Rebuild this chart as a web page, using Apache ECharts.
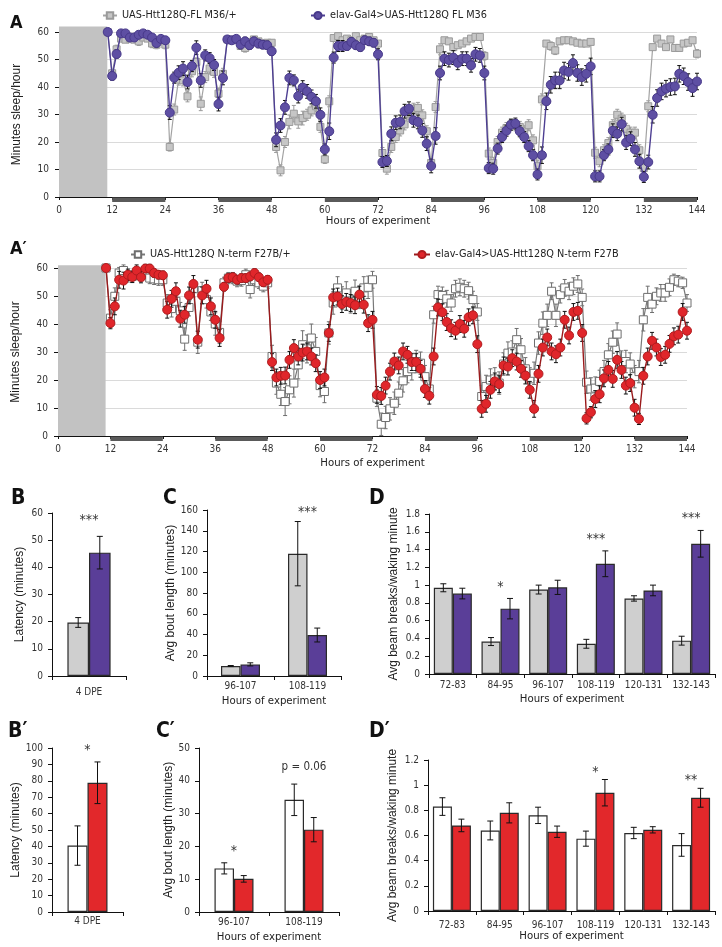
<!DOCTYPE html>
<html><head><meta charset="utf-8">
<script src="https://cdn.jsdelivr.net/npm/echarts@6/dist/echarts.min.js"></script>
<style>html,body{margin:0;padding:0;background:#fff}#c{width:722px;height:947px}</style>
</head><body><div id="c"></div>
<script>
const NARROW = "'Liberation Sans Narrow','Arial Narrow','DejaVu Sans Condensed','Liberation Sans',sans-serif";
const REG = "'Liberation Sans',Arial,sans-serif";

// ---------- time-series data (hourly, hour 11 .. 144) ----------
const firstHour = 11;
const nightPeriods = [[12,24],[36,48],[60,72],[84,96],[108,120],[132,144]];
const shadedStart = 0, shadedEnd = 10.9;

const nameA1 = 'UAS-Htt128Q-FL M36/+';
const nameA2 = 'elav-Gal4>UAS-Htt128Q FL M36';
const nameB1 = 'UAS-Htt128Q N-term F27B/+';
const nameB2 = 'elav-Gal4>UAS-Htt128Q N-term F27B';

const aCtrl = [60,45,53.7,57.6,57.2,57.6,57.2,56.6,58,57.6,55.8,55.4,56.6,55.4,
 18.2,31.8,42.7,42.4,36.6,45.7,49.1,33.9,43.6,46.7,45.5,37.6,44.8,
 57.3,57,57.3,54.9,54.2,56.4,57.3,56.6,55.8,56.1,56.1,
 18.2,9.7,20,27.3,30.3,27.5,28.7,29.9,31.5,33,25.5,13.7,34.8,
 57.8,58.5,57,57.6,57,58.5,57,57.6,58.2,57,55.8,
 16,10.3,18.2,21.8,24.2,26.4,30.3,32.1,32.4,29.7,23.9,12.4,32.7,
 53.7,57,56.6,54.5,55.2,55.8,56.6,57.6,58.2,58.2,51.3,
 15.8,12.4,20,23.4,25.1,26.3,26.1,25.5,23.9,26.1,20.6,11.2,
 35.5,55.8,54.9,53.3,56.6,57,57,56.6,56.1,55.8,55.8,56.4,
 16.1,13,17,19.6,26.1,29.9,28.5,24.8,23.4,23.4,17,10.5,
 33,54.5,57.6,55.8,54.5,57.3,54.2,54.2,55.8,56.1,57,52.1];
const aCtrlErr = [0.5,1,1.5,1,1,1,1,1.5,1,1,1.5,1.5,1,1.5,
 1.5,2,2,2,2,2,1.5,2.5,2,2,2,2,2,
 1,1,1,1,1.5,1,1,1,1,1,1,
 2,2,2,2.5,3,2.5,2.5,2,2,2,2,1.5,2,
 1,1,1,1,1,1,1,1,1,1,1,
 2,2,2,2,2,2,2,2,2,2,2,2,2,
 2,1,1,1,1,1,1,1,1,1,1.5,
 2,2,2,2,2,2,2,2,2,2,2,2,
 2,1,1.5,1.5,1,1,1,1,1,1,1,1,
 2,2,2,2,2,2,2,2,2,2,2,2,
 2,1,1,1,1,1,1,1,1,1,1,1.5];
const aHtt = [60,44,52,59.5,59.5,58,58,59,59.5,59,58,56,57.5,57,
 30.7,43.4,45.2,46.7,41.8,47.6,54.3,42.4,51.5,50.5,48,33.8,43.3,
 57.3,57,57.5,55.4,56.6,55.2,56.6,55.8,55.4,55.2,53,
 20.8,26,32.6,43.3,42.4,36.7,39.8,38.4,36.4,34.8,29.9,17.3,23.9,
 50.7,54.9,54.9,54.9,56.4,55.2,54.5,57,56.6,56.1,51.9,
 12.7,13.1,23,27,27.3,31.2,32.1,27.9,27.3,24.2,19.4,11.3,22.2,
 45.1,50.3,49.8,50.7,48.8,50.3,50.3,47.9,51.9,51.5,45.1,
 10.5,10.3,17.6,21.8,24.1,26.3,26.7,23.9,21.8,18.5,15.2,8.2,
 15.2,34.8,40.8,42.4,42.4,46,45.5,48.7,45.1,43.6,44.8,47.5,
 7.5,7.5,15.2,17.3,24.1,23,26.5,19.8,21.2,17.3,13,7.3,
 12.7,29.9,36,38.4,39.4,40,40.2,44.8,43.9,41.8,39.6,42];
const aHttErr = [0.5,1.5,1.5,1,1,1,1,1,1,1,1,1.5,1,1,
 2.5,2,2.5,2.5,2.5,2,2.5,2.5,2,2,2,2.5,2.5,
 1,1,1,1.5,1.5,1.5,1.5,1.5,1.5,1.5,1.5,
 2.5,2.5,2.5,2.5,2,2.5,2.5,2.5,2.5,2.5,2.5,2,3,
 2,2,2,1.5,1.5,1.5,1.5,1.5,1.5,1.5,2,
 2,2,2.5,2.5,2.5,2.5,2.5,2.5,2.5,2.5,2.5,2.5,3,
 2.5,2.5,2.5,2.5,2.5,2.5,2.5,2.5,2.5,2.5,2.5,
 2,2,2,2,2,2,2,2,2,2,2,2,
 3,3,3,3,3,3,3,3,3,3,3,3,
 2,2,2,2,2.5,2.5,2.5,2.5,2.5,2.5,2.5,2,
 2.5,3,3,3,3,3,3,3,3,3,3,3];

const bCtrl = [60,42.1,49.9,58.2,59.1,57,57,57.9,57.6,59.1,56.4,56.1,55.8,55.8,
 47.5,45.5,48.1,44.7,34.6,45.9,52.6,33.5,51.9,48.7,44.3,40,37,
 54.7,56.4,56.4,55.3,55.5,57.6,52.3,55.8,54.7,53.5,54.7,
 28.4,18.9,14.9,12.3,16.5,18.9,25.4,32.6,31.1,35,30.2,18,15.9,
 36.8,47.5,52.9,49.3,51.1,47.9,51.7,49.5,52.9,53.1,55.8,
 13.5,4.2,6.6,9.7,11.7,15.3,19.7,23,24,26.6,26,21.2,16.8,
 43.3,50.5,50.2,49,47.5,52.6,53.1,52.6,51.9,48.7,44.3,
 14.1,17.7,20,20.4,18.9,25.7,29.6,30,34.4,30.8,24,20.4,
 22.4,33.2,40.3,43.1,51.7,43.1,50.5,52.9,51.7,53.5,54.3,49.5,
 19.2,16.8,17.1,19.5,23,29,33.5,36.4,26.4,26.6,25.7,21.2,
 23,41.5,49.5,47.1,49.9,51.1,51.1,53.1,55.8,55.3,54.7,47.5];
const bCtrlErr = [0.5,3,3,2,2,2,2,2,2,2,2,2,2,2,
 3,3,3,3,4,3,3,4,3,3,3,4,4,
 2,2,2,2,2,2,3,2,2,2,2,
 4,4,4,5,5,5,5,5,5,5,5,4,4,
 4,4,4,4,4,4,4,4,4,4,3,
 3,4,4,4,4,4,4,4,4,4,4,4,4,
 3,3,3,3,3,3,3,3,3,3,3,
 4,4,4,4,4,4,4,4,4,4,4,4,
 4,4,4,4,3,4,3,3,3,3,3,3,
 4,4,4,4,4,4,4,4,4,4,4,4,
 4,4,4,3,3,3,3,3,2,2,2,3];
const bHtt = [60,40.3,46.3,55.8,55.5,57.6,56.8,59.1,56.7,59.8,59.8,58.2,57.6,57.4,
 45.1,49,51.7,41.9,43.3,50.2,54.3,34.4,50.2,52.6,46.3,41.5,35,
 53.3,56.4,56.7,55.8,56.4,56.4,57,58.2,56.7,54.9,55.8,
 26.4,20.9,21.5,21.6,27.2,31.4,28.4,29.8,30.2,28.4,26,20,20.9,
 36.8,49.5,49.8,47.1,47.9,47.5,46.7,50.5,46.9,40.3,41.5,
 14.7,14.3,18,23,26.6,25.2,30.2,29,26.4,26.4,24,16.8,14.4,
 28.4,45.9,44.2,40.7,38.5,37.6,40,38.3,42.4,43.1,32.8,
 9.7,11.5,16.5,19.5,18.5,25.2,24.8,27.8,26.6,24,21.6,16.5,
 9.7,22.2,31.6,35.2,30.2,29.2,31.6,41.5,35.9,44.3,44.7,36.8,
 6.3,8.5,13.2,14.9,20.6,23.6,20.4,27.2,23.6,18,18.9,10.1,
 6.1,21.5,28.4,34,31.6,28.2,29,32.9,35.6,36.2,44.3,37.6];
const bHttErr = [0.5,2,3,3,3,2,2,2,2,1.5,1.5,1.5,1.5,1.5,
 3,3,3,3,3,3,3,3,3,3,3,3,3,
 1.5,1.5,1.5,1.5,1.5,1.5,1.5,1.5,1.5,1.5,1.5,
 3,3,3,3,3,3,3,3,3,3,3,3,3,
 3,3,3,3,3,3,3,3,3,3,3,
 3,3,3,3,3,3,3,3,3,3,3,3,3,
 3,3,3,3,3,3,3,3,3,3,3,
 3,3,3,3,3,3,3,3,3,3,3,3,
 3,3,3,3,3,3,3,3,3,3,3,3,
 2,2,3,3,3,3,3,3,3,3,3,3,
 2,3,3,3,3,3,3,3,3,3,3,3];

// ---------- bar panel data ----------
const latCats = ['4 DPE'];
const boutCats = ['96-107','108-119'];
const beamCats = ['72-83','84-95','96-107','108-119','120-131','132-143'];

const latA_ctrl = [19.7], latA_ctrlErr = [1.8];
const latA_htt = [45.4], latA_httErr = [6];
const boutA_ctrl = [9.6,117.9], boutA_ctrlErr = [0.5,31];
const boutA_htt = [11.2,39.5], boutA_httErr = [1.5,6.7];
const beamA_ctrl = [0.97,0.365,0.95,0.34,0.85,0.375], beamA_ctrlErr = [0.045,0.045,0.05,0.05,0.03,0.05];
const beamA_htt = [0.905,0.735,0.975,1.24,0.94,1.465], beamA_httErr = [0.06,0.115,0.08,0.145,0.06,0.15];

const latB_ctrl = [40.5], latB_ctrlErr = [12];
const latB_htt = [78.8], latB_httErr = [12.7];
const boutB_ctrl = [13.3,34.2], boutB_ctrlErr = [1.7,4.8];
const boutB_htt = [10.1,25.1], boutB_httErr = [1,3.7];
const beamB_ctrl = [0.83,0.64,0.76,0.575,0.62,0.525], beamB_ctrlErr = [0.07,0.075,0.065,0.06,0.045,0.09];
const beamB_htt = [0.68,0.78,0.63,0.94,0.645,0.90], beamB_httErr = [0.05,0.08,0.045,0.105,0.025,0.075];

// significance annotations: [category index, value, text]
const sigLatA = [[0,57.3,'***']];
const sigBoutA = [[1,158,'***']];
const sigBeamA = [[1,0.97,'*'],[3,1.52,'***'],[5,1.755,'***']];
const sigLatB = [[0,98.5,'*']];
const sigBoutB = [[0,18.4,'*']];
const noteBoutB = [[1,44.3,'p = 0.06']];
const sigBeamB = [[3,1.1,'*'],[5,1.04,'**']];

// ---------- helpers ----------
const tsPts = arr => arr.map((v,i)=>[firstHour+i, v]);
const tsErrPts = (arr,err) => arr.map((v,i)=>[firstHour+i, v-err[i], v+err[i]]);
const barErrPts = (arr,err) => arr.map((v,i)=>[i, v-err[i], v+err[i]]);

function errRender(color, cap, offset){
  return function(params, api){
    const x = api.value(0), lo = api.value(1), hi = api.value(2);
    const a = api.coord([x, lo]), b = api.coord([x, hi]);
    const px = a[0] + (offset||0);
    const st = {stroke: color, lineWidth: 1};
    return {type:'group', children:[
      {type:'line', shape:{x1:px,y1:a[1],x2:px,y2:b[1]}, style:st},
      {type:'line', shape:{x1:px-cap,y1:b[1],x2:px+cap,y2:b[1]}, style:st},
      {type:'line', shape:{x1:px-cap,y1:a[1],x2:px+cap,y2:a[1]}, style:st}
    ]};
  };
}
function boxRender(color){
  return function(params, api){
    const a = api.coord([api.value(0), 0]), b = api.coord([api.value(1), api.value(2)]);
    return {type:'rect', shape:{x:a[0], y:b[1], width:b[0]-a[0], height:a[1]-b[1]}, style:{fill:color}};
  };
}
function nightRender(params, api){
  const a = api.coord([api.value(0), 0]), b = api.coord([api.value(1), 0]);
  return {type:'rect', shape:{x:a[0], y:a[1]+0.5, width:b[0]-a[0], height:4.5}, style:{fill:'#5a5a5a'}};
}
function textRender(list, font){
  return function(params, api){
    const p = api.coord([api.value(0), api.value(1)]);
    return {type:'text', x:p[0], y:p[1], style:{text:list[params.dataIndex][2], fill:'#333', font:font, align:'center', verticalAlign:'middle'}};
  };
}

const axisLineBlack = {show:true, lineStyle:{color:'#111', width:1}};
const tickLabel = {fontFamily:NARROW, fontSize:10, color:'#333'};
const axisNameH = {fontFamily:NARROW, fontSize:11.3, color:'#222'};

function tsX(gi, gap){
  return {gridIndex:gi, type:'value', min:0, max:144, interval:12,
    axisLine:axisLineBlack, axisTick:{show:true, length:3, lineStyle:{color:'#111'}},
    axisLabel:Object.assign({margin:8}, tickLabel), splitLine:{show:false},
    name:'Hours of experiment', nameLocation:'middle', nameGap:gap, nameTextStyle:axisNameH};
}
function tsY(gi){
  return {gridIndex:gi, type:'value', min:0, max:60, interval:10,
    axisLine:axisLineBlack, axisTick:{show:true, length:4, lineStyle:{color:'#111'}},
    axisLabel:Object.assign({margin:10}, tickLabel),
    splitLine:{show:true, lineStyle:{color:'#dadada', width:1}},
    name:'Minutes sleep/hour', nameLocation:'middle', nameGap:36,
    nameTextStyle:{fontFamily:REG, fontSize:12, color:'#222'}};
}
function catX(gi, cats, withName, margin){
  return {gridIndex:gi, type:'category', data:cats,
    axisLine:axisLineBlack, axisTick:{show:true, length:4, alignWithLabel:false, lineStyle:{color:'#111'}},
    axisLabel:Object.assign({margin:margin, interval:0}, tickLabel), splitLine:{show:false},
    name: withName ? 'Hours of experiment' : '', nameLocation:'middle', nameGap:20, nameTextStyle:axisNameH};
}
function valY(gi, max, interval, name, gap){
  return {gridIndex:gi, type:'value', min:0, max:max, interval:interval,
    axisLine:axisLineBlack, axisTick:{show:true, length:4, lineStyle:{color:'#111'}},
    axisLabel:Object.assign({margin:9}, tickLabel), splitLine:{show:false},
    name:name, nameLocation:'middle', nameGap:gap,
    nameTextStyle:{fontFamily:REG, fontSize:12, color:'#222'}};
}

const grids = [
  {left:59, right:25, top:32, height:165},
  {left:58, right:35, top:268, height:168},
  {left:52, width:74, top:513, height:163},
  {left:207, width:134, top:510, height:166},
  {left:429, width:286, top:514, height:160},
  {left:52, width:71, top:748, height:164},
  {left:199, width:140, top:748, height:164},
  {left:428, width:287, top:760, height:151}
];

const xAxes = [tsX(0,17), tsX(1,22),
  catX(2, latCats, false, 11), catX(3, boutCats, true, 5), catX(4, beamCats, true, 6),
  catX(5, latCats, false, 4), catX(6, boutCats, true, 5), catX(7, beamCats, true, 9)];
const yAxes = [tsY(0), tsY(1),
  valY(2, 60, 10, 'Latency (minutes)', 26),
  valY(3, 160, 20, 'Avg bout length (minutes)', 30),
  valY(4, 1.8, 0.2, 'Avg beam breaks/waking minute', 29),
  valY(5, 100, 10, 'Latency (minutes)', 25),
  valY(6, 50, 10, 'Avg bout length (minutes)', 22),
  valY(7, 1.2, 0.2, 'Avg beam breaks/waking minute', 29)];

const series = [];
function addTS(gi, boxTop, ctrl, ctrlErr, htt, httErr, n1, n2, ctrlStyle, httStyle){
  series.push({type:'custom', xAxisIndex:gi, yAxisIndex:gi, clip:false, silent:true, z:1,
    renderItem:boxRender('#c2c2c2'), data:[[shadedStart, shadedEnd, boxTop]]});
  series.push({type:'custom', xAxisIndex:gi, yAxisIndex:gi, clip:false, silent:true, z:1,
    renderItem:nightRender, data:nightPeriods});
  series.push({type:'custom', xAxisIndex:gi, yAxisIndex:gi, clip:false, silent:true, z:2,
    renderItem:errRender(ctrlStyle.err, 2), data:tsErrPts(ctrl, ctrlErr)});
  series.push({type:'line', name:n1, xAxisIndex:gi, yAxisIndex:gi, z:3, data:tsPts(ctrl),
    symbol:'rect', symbolSize:ctrlStyle.size, showAllSymbol:true,
    lineStyle:{color:ctrlStyle.line, width:1.2},
    itemStyle:{color:ctrlStyle.fill, borderColor:ctrlStyle.border, borderWidth:1}});
  series.push({type:'custom', xAxisIndex:gi, yAxisIndex:gi, clip:false, silent:true, z:4,
    renderItem:errRender(httStyle.err, 2), data:tsErrPts(htt, httErr)});
  series.push({type:'line', name:n2, xAxisIndex:gi, yAxisIndex:gi, z:5, data:tsPts(htt),
    symbol:'circle', symbolSize:httStyle.size, showAllSymbol:true,
    lineStyle:{color:httStyle.line, width:1.4},
    itemStyle:{color:httStyle.fill, borderColor:httStyle.border, borderWidth:1}});
}
addTS(0, 62, aCtrl, aCtrlErr, aHtt, aHttErr, nameA1, nameA2,
  {fill:'#c6c6c6', border:'#9a9a9a', line:'#a3a3a3', err:'#9a9a9a', size:7},
  {fill:'#5e4fa3', border:'#48398a', line:'#4d3e92', err:'#111', size:9});
addTS(1, 61, bCtrl, bCtrlErr, bHtt, bHttErr, nameB1, nameB2,
  {fill:'#ffffff', border:'#6e6e6e', line:'#787878', err:'#6e6e6e', size:8},
  {fill:'#e0262b', border:'#b01c1f', line:'#9a1a1c', err:'#111', size:9});

function addBars(gi, ctrl, ctrlErr, htt, httErr, ctrlColor, httColor, bw, sig, sigFont){
  series.push({type:'bar', name:'ctrl'+gi, xAxisIndex:gi, yAxisIndex:gi, data:ctrl, barWidth:bw, barGap:'0%',
    itemStyle:{color:ctrlColor, borderColor:'#2a2a2a', borderWidth:1.2}, z:2});
  series.push({type:'bar', name:'htt'+gi, xAxisIndex:gi, yAxisIndex:gi, data:htt, barWidth:bw, barGap:'0%',
    itemStyle:{color:httColor, borderColor:'#2a2a2a', borderWidth:1.2}, z:2});
  series.push({type:'custom', xAxisIndex:gi, yAxisIndex:gi, clip:false, silent:true, z:5,
    renderItem:errRender('#111', 3, -bw/2), data:barErrPts(ctrl, ctrlErr)});
  series.push({type:'custom', xAxisIndex:gi, yAxisIndex:gi, clip:false, silent:true, z:5,
    renderItem:errRender('#111', 3, bw/2), data:barErrPts(htt, httErr)});
  series.push({type:'custom', xAxisIndex:gi, yAxisIndex:gi, clip:false, silent:true, z:6,
    renderItem:textRender(sig, sigFont), data:sig.map(s=>[s[0], s[1]])});
}
const starFont = "14px " + NARROW;
addBars(2, latA_ctrl, latA_ctrlErr, latA_htt, latA_httErr, '#cfcfcf', '#5a3e98', 21.6, sigLatA, starFont);
addBars(3, boutA_ctrl, boutA_ctrlErr, boutA_htt, boutA_httErr, '#cfcfcf', '#5a3e98', 19.5, sigBoutA, starFont);
addBars(4, beamA_ctrl, beamA_ctrlErr, beamA_htt, beamA_httErr, '#cfcfcf', '#5a3e98', 19, sigBeamA, starFont);
addBars(5, latB_ctrl, latB_ctrlErr, latB_htt, latB_httErr, '#ffffff', '#e2282b', 20, sigLatB, starFont);
addBars(6, boutB_ctrl, boutB_ctrlErr, boutB_htt, boutB_httErr, '#ffffff', '#e2282b', 19.5, sigBoutB, starFont);
series.push({type:'custom', xAxisIndex:6, yAxisIndex:6, clip:false, silent:true, z:6,
  renderItem:textRender(noteBoutB, "11.5px " + NARROW), data:noteBoutB.map(s=>[s[0], s[1]])});
addBars(7, beamB_ctrl, beamB_ctrlErr, beamB_htt, beamB_httErr, '#ffffff', '#e2282b', 19, sigBeamB, starFont);

const letterStyle = (size)=>({fontFamily:NARROW, fontWeight:'bold', fontSize:size, color:'#111'});
const titles = [
  {text:'A', left:5, top:9, textStyle:letterStyle(18)},
  {text:'A\u2032', left:5, top:235, textStyle:letterStyle(18)},
  {text:'B', left:6, top:483, textStyle:letterStyle(21)},
  {text:'C', left:158, top:483, textStyle:letterStyle(21)},
  {text:'D', left:364, top:483, textStyle:letterStyle(21)},
  {text:'B\u2032', left:3, top:716, textStyle:letterStyle(21)},
  {text:'C\u2032', left:151, top:716, textStyle:letterStyle(21)},
  {text:'D\u2032', left:364, top:716, textStyle:letterStyle(21)}
];

const legStyle = {fontFamily:NARROW, fontSize:10.8, color:'#222'};
const legend = [
  {data:[nameA1], left:97, top:5, itemWidth:14, itemHeight:8, selectedMode:false, textStyle:legStyle},
  {data:[nameA2], left:305, top:5, itemWidth:14, itemHeight:9, selectedMode:false, textStyle:legStyle},
  {data:[nameB1], left:125, top:244, itemWidth:14, itemHeight:8, selectedMode:false, textStyle:legStyle},
  {data:[nameB2], left:408, top:244, itemWidth:16, itemHeight:9, selectedMode:false, textStyle:legStyle}
];

const chart = echarts.init(document.getElementById('c'), null, {renderer:'canvas', width:722, height:947});
chart.setOption({
  animation:false,
  backgroundColor:'#ffffff',
  title:titles,
  legend:legend,
  grid:grids,
  xAxis:xAxes,
  yAxis:yAxes,
  series:series
});
</script>
</body></html>
